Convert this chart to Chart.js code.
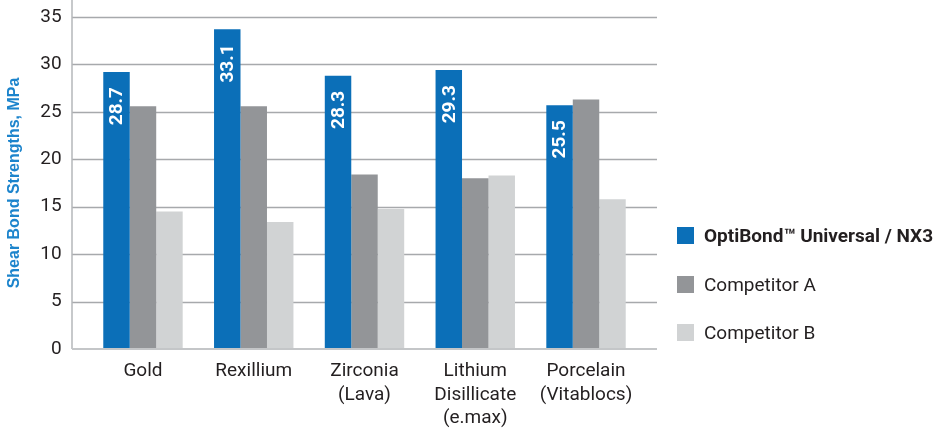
<!DOCTYPE html>
<html lang="en">
<head>
    <meta charset="UTF-8">
    <title>Shear Bond Strengths</title>
    <script src="https://cdn.jsdelivr.net/npm/chart.js"></script>
    <style>
        body {
            margin: 0;
            padding: 0;
            background: #fff;
            font-family: Roboto, sans-serif;
        }

        .wrap {
            position: relative;
            width: 936px;
            height: 430px;
        }

        .leyenda {
            position: absolute;
            left: 677px;
            top: 0;
            color: #231f20;
            font-size: 19px;
        }

        .leyenda .item {
            position: absolute;
            left: 0;
            white-space: nowrap;
            display: flex;
            align-items: center;
        }

        .leyenda .caja {
            width: 17px;
            height: 17px;
            margin-right: 10px;
        }
    </style>
</head>
<body>
    <div class="wrap">
        <canvas id="grafica"></canvas>
        <div class="leyenda" id="leyenda"></div>
    </div>

    <script>
        const categorias = [
            ['Gold'],
            ['Rexillium'],
            ['Zirconia', '(Lava)'],
            ['Lithium', 'Disillicate', '(e.max)'],
            ['Porcelain', '(Vitablocs)']
        ];
        const serieNombres = ['OptiBond™ Universal / NX3', 'Competitor A', 'Competitor B'];
        const optibond = [29.2, 33.7, 28.8, 29.4, 25.7];
        const competidorA = [25.6, 25.6, 18.4, 18.0, 26.3];
        const competidorB = [14.5, 13.4, 14.75, 18.3, 15.8];
        const etiquetasOptibond = ['28.7', '33.1', '28.3', '29.3', '25.5'];
        const yTicks = [0, 5, 10, 15, 20, 25, 30, 35];

        const colores = ['#0b6fb8', '#939598', '#d1d3d4'];
        const extra = 15.6;

        // grid lines reach a bit past the bars on both sides
        const gridExtendido = {
            id: 'gridExtendido',
            beforeDatasetsDraw(chart) {
                const { ctx, chartArea, scales } = chart;
                const x0 = chartArea.left - extra;
                const x1 = chartArea.right + extra;
                ctx.save();
                scales.y.ticks.forEach(t => {
                    if (t.value === 0) return;
                    const y = Math.round(scales.y.getPixelForValue(t.value)) + 0.5;
                    ctx.strokeStyle = '#a7a9ac';
                    ctx.lineWidth = 1.5;
                    ctx.beginPath();
                    ctx.moveTo(x0, y);
                    ctx.lineTo(x1, y);
                    ctx.stroke();
                });
                ctx.strokeStyle = '#b5b7ba';
                ctx.lineWidth = 1.5;
                ctx.beginPath();
                ctx.moveTo(x0, 0);
                ctx.lineTo(x0, scales.y.getPixelForValue(0));
                ctx.stroke();
                ctx.restore();
            },
            afterDatasetsDraw(chart) {
                const { ctx, chartArea, scales } = chart;
                const y = scales.y.getPixelForValue(0);
                ctx.save();
                ctx.strokeStyle = '#c4c6c8';
                ctx.lineWidth = 2;
                ctx.beginPath();
                ctx.moveTo(chartArea.left - extra, y);
                ctx.lineTo(chartArea.right + extra, y);
                ctx.stroke();

                // white values inside the blue bars
                const meta = chart.getDatasetMeta(0);
                ctx.fillStyle = '#fff';
                ctx.font = 'bold 19px Roboto, sans-serif';
                ctx.textAlign = 'right';
                ctx.textBaseline = 'middle';
                meta.data.forEach((bar, i) => {
                    ctx.save();
                    ctx.translate(bar.x, bar.y + 15);
                    ctx.rotate(-Math.PI / 2);
                    ctx.fillText(etiquetasOptibond[i], 0, 1);
                    ctx.restore();
                });
                ctx.restore();
            }
        };

        const ctx = document.getElementById('grafica').getContext('2d');
        new Chart(ctx, {
            type: 'bar',
            data: {
                labels: categorias,
                datasets: [
                    { label: serieNombres[0], data: optibond, backgroundColor: colores[0] },
                    { label: serieNombres[1], data: competidorA, backgroundColor: colores[1] },
                    { label: serieNombres[2], data: competidorB, backgroundColor: colores[2] }
                ]
            },
            options: {
                responsive: true,
                maintainAspectRatio: false,
                animation: false,
                categoryPercentage: 0.717,
                barPercentage: 1,
                layout: {
                    padding: { top: 17, right: 294.6, bottom: 0, left: 0 }
                },
                plugins: {
                    legend: { display: false },
                    tooltip: { enabled: false }
                },
                scales: {
                    x: {
                        grid: { display: false },
                        border: { display: false },
                        ticks: {
                            color: '#231f20',
                            font: { family: 'Roboto', size: 19, lineHeight: 1.23 },
                            padding: 3,
                            maxRotation: 0,
                            autoSkip: false
                        },
                        afterFit(scale) { scale.height = 81; }
                    },
                    y: {
                        min: 0,
                        max: 35,
                        afterBuildTicks(scale) {
                            scale.ticks = yTicks.map(v => ({ value: v }));
                        },
                        // invisible tick marks push the labels left without adding top padding
                        grid: {
                            color: 'rgba(0,0,0,0)',
                            drawOnChartArea: false,
                            drawTicks: true,
                            tickLength: 26
                        },
                        border: { display: false },
                        ticks: {
                            color: '#231f20',
                            font: { family: 'Roboto', size: 19 },
                            padding: 0
                        },
                        title: {
                            display: true,
                            text: 'Shear Bond Strengths, MPa',
                            color: '#1c84cc',
                            font: { family: 'Liberation Sans', size: 16, weight: 'bold' },
                            padding: { top: 5, bottom: 0 }
                        },
                        afterFit(scale) { scale.width = 87.6; }
                    }
                }
            },
            plugins: [gridExtendido]
        });

        // legend as html so the first entry can be bold
        const leyenda = document.getElementById('leyenda');
        const leyendaY = [235, 284, 332];
        serieNombres.forEach((nombre, i) => {
            const item = document.createElement('div');
            item.className = 'item';
            item.style.top = (leyendaY[i] - 12) + 'px';
            item.style.height = '24px';
            item.innerHTML = '<span class="caja" style="background:' + colores[i] + '"></span>' +
                '<span style="font-weight:' + (i === 0 ? 'bold' : 'normal') + '">' + nombre + '</span>';
            leyenda.appendChild(item);
        });
    </script>
</body>
</html>
